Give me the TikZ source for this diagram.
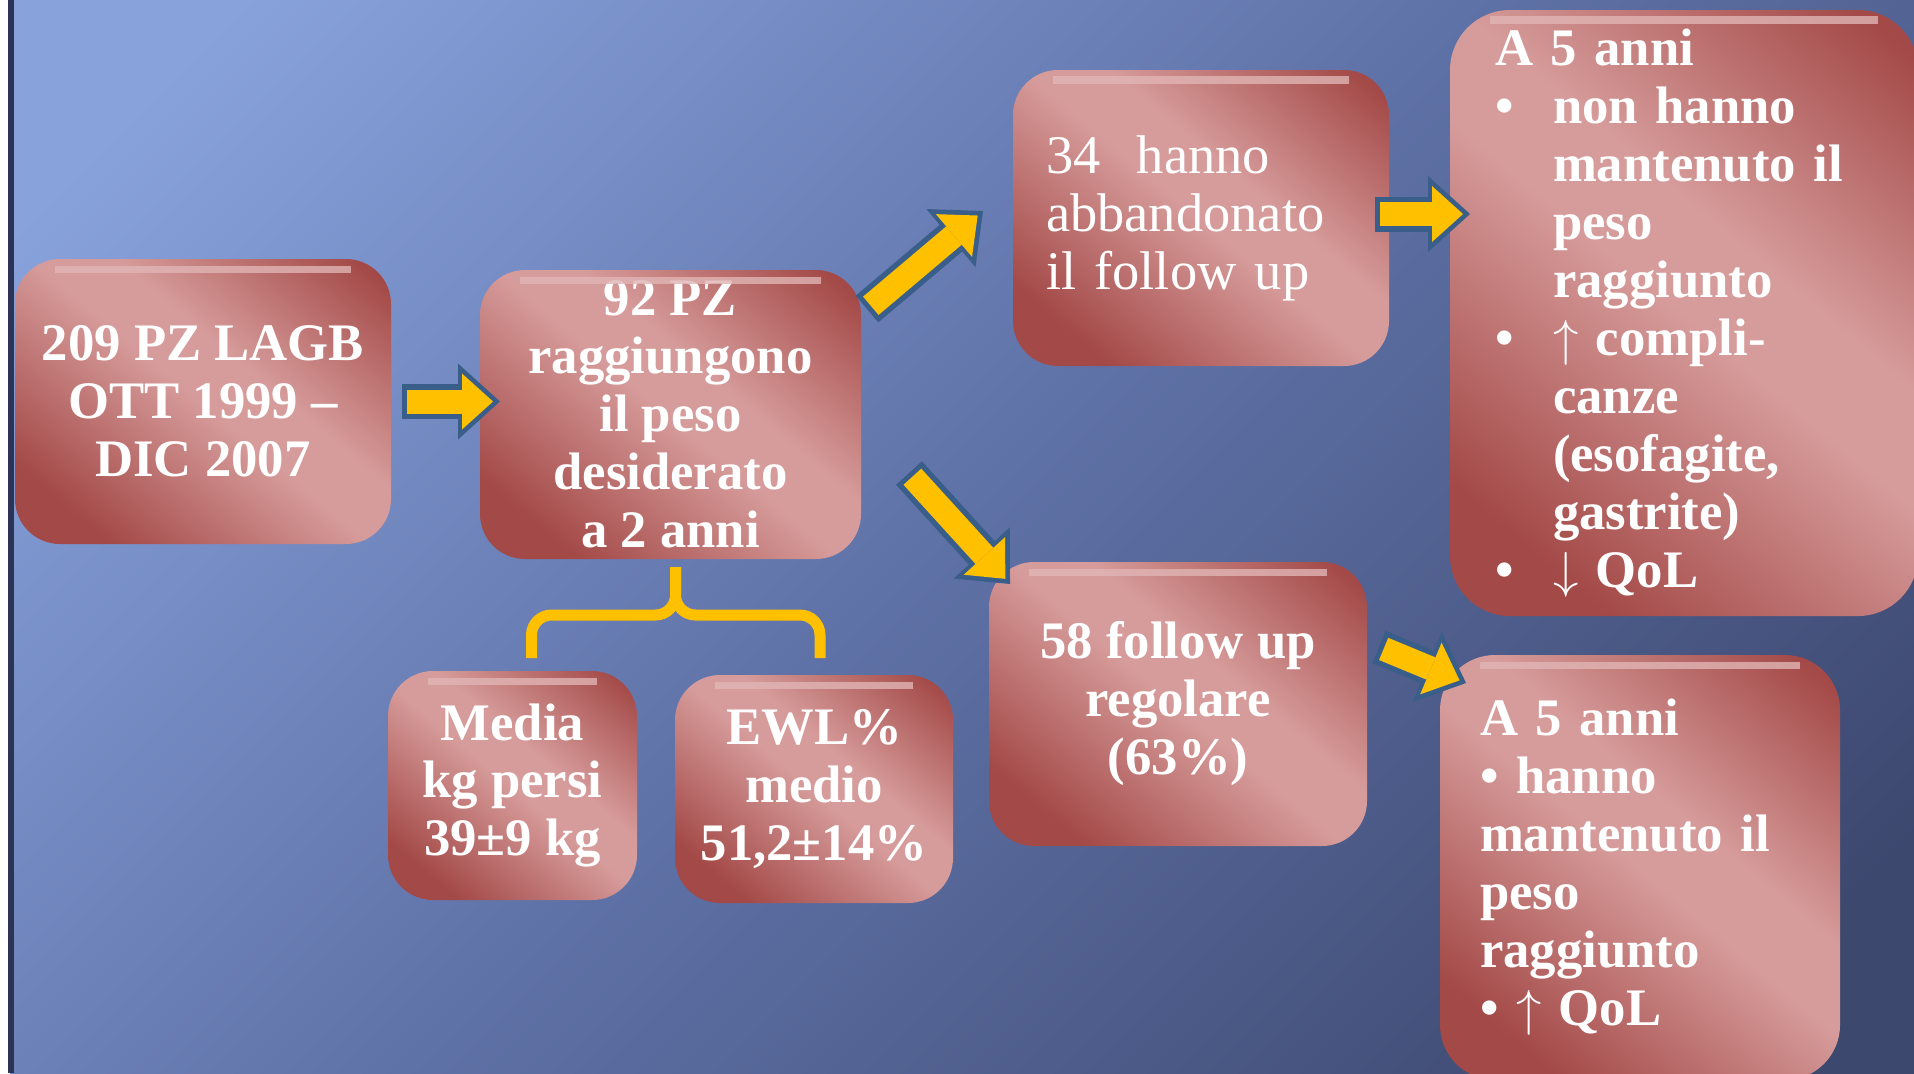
\documentclass[tikz,border=0pt]{standalone}
\usepackage{fontspec}
\setmainfont{Liberation Serif}
\usetikzlibrary{arrows.meta,calc}

\definecolor{bglight}{HTML}{88A2DC}
\definecolor{bgmid}{HTML}{5E71A6}
\definecolor{bgdark}{HTML}{3D486F}
\definecolor{bgedge}{HTML}{2C3354}
\definecolor{boxdark}{HTML}{A34947}
\definecolor{boxlight}{HTML}{D69C9B}
\definecolor{arrowfill}{HTML}{FFC000}
\definecolor{arrowline}{HTML}{3A5E8A}

\pgfdeclarehorizontalshading{bgshade}{100bp}{color(0bp)=(bglight); color(20bp)=(bglight); color(50bp)=(bgmid); color(80bp)=(bgdark); color(100bp)=(bgdark)}
\pgfdeclarehorizontalshading{boxshade}{100bp}{color(0bp)=(boxdark); color(24bp)=(boxdark); color(50bp)=(boxlight); color(58bp)=(boxlight); color(82bp)=(boxdark); color(100bp)=(boxdark)}

\tikzset{
  box/.style={rounded corners=0.45cm, shade, shading=boxshade, shading angle=50,
    text=white, font=\fontsize{15}{16.5}\selectfont\bfseries, align=center,
    inner sep=0pt, outer sep=0pt},
  arrowback/.style={line width=0.35cm, draw=arrowline,
    -{Triangle[length=0.42cm, width=0.76cm, line width=0pt]}},
  arrowfront/.style={line width=0.24cm, draw=arrowfill, shorten <=0.05cm, shorten >=0.07cm,
    -{Triangle[length=0.31cm, width=0.56cm, line width=0pt]}},
  bracket/.style={line width=0.11cm, draw=arrowfill, rounded corners=0.2cm},
  gloss/.style={line width=2pt, draw=boxlight!75!white, opacity=0.8}
}

\begin{document}
\begin{tikzpicture}
  \useasboundingbox (0,0) rectangle (19.14,-10.73);
  \clip (0,0) rectangle (19.14,-10.73);

  % background
  \fill[white] (0,0) rectangle (0.10,-10.73);
  \shade[shading=bgshade, shading angle=-45] (0.10,0) rectangle (19.14,-10.73);
  \draw[bgedge, line width=1.5pt] (0.11,0) -- (0.11,-10.73);

  % first column
  \node[box, minimum width=3.76cm, minimum height=2.85cm] (lagb) at (2.03,-4.015)
    {209 PZ LAGB\\OTT 1999 --\\DIC 2007};

  % second column
  \node[box, minimum width=3.81cm, minimum height=2.89cm] (target) at (6.705,-4.145)
    {92 PZ\\raggiungono\\il peso\\desiderato\\a 2 anni};
  \node[box, minimum width=2.49cm, minimum height=2.29cm] (kgloss) at (5.125,-7.855)
    {Media\\kg persi\\39±9 kg};
  \node[box, minimum width=2.78cm, minimum height=2.28cm] (ewl) at (8.14,-7.89)
    {EWL\%\\medio\\51,2±14\%};

  % third column
  \node[box, font=\fontsize{15.5}{16.5}\selectfont\mdseries, align=left, text width=3.10cm,
    minimum width=3.76cm, minimum height=2.96cm] (dropout) at (12.01,-2.18)
    {34~~hanno\\abbandonato\\il follow up};
  \node[box, minimum width=3.78cm, minimum height=2.84cm] (regular) at (11.78,-7.04)
    {58 follow up\\regolare\\(63\%)};

  % fourth column
  \node[box, rounded corners=0.6cm, align=left, text width=3.78cm,
    minimum width=4.68cm, minimum height=6.06cm] (lost) at (16.84,-3.13)
    {A 5 anni\\
     \makebox[0.58cm][l]{•}non hanno\\
     \hspace*{0.58cm}mantenuto il\\
     \hspace*{0.58cm}peso\\
     \hspace*{0.58cm}raggiunto\\
     \makebox[0.58cm][l]{•}$\uparrow$ compli-\\
     \hspace*{0.58cm}canze\\
     \hspace*{0.58cm}(esofagite,\\
     \hspace*{0.58cm}gastrite)\\
     \makebox[0.58cm][l]{•}$\downarrow$ QoL};
  \node[box, rounded corners=0.55cm, align=left, text width=3.20cm,
    minimum width=4.00cm, minimum height=4.25cm] (kept) at (16.40,-8.675)
    {A 5 anni\\
     • hanno\\
     mantenuto il\\
     peso\\
     raggiunto\\
     • $\uparrow$ QoL};

  % highlight on the top edge
  \foreach \b in {lagb, target, kgloss, ewl, dropout, regular, lost, kept}
    \draw[gloss] ($(\b.north west)+(0.40,-0.10)$) -- ($(\b.north east)+(-0.40,-0.10)$);

  % arrow ends
  \coordinate (t1) at ($(lagb.east)+(0.11,0)$);
  \coordinate (h1) at ($(target.west |- lagb.east)+(0.20,0)$);
  \coordinate (t2) at ($(target.north east)+(0.06,-0.39)$);
  \coordinate (h2) at ($(dropout.west)+(-0.30,0.07)$);
  \coordinate (t3) at ($(target.south east)+(0.48,0.86)$);
  \coordinate (h3) at ($(regular.north west)+(0.21,-0.22)$);
  \coordinate (t4) at ($(dropout.east)+(-0.14,0.04)$);
  \coordinate (h4) at ($(lost.west |- t4)+(0.20,0)$);
  \coordinate (t5) at ($(regular.north east)+(0.12,-0.85)$);
  \coordinate (h5) at ($(kept.north west)+(0.26,-0.28)$);

  \foreach \t/\h in {t1/h1, t2/h2, t3/h3, t4/h4, t5/h5} {
    \draw[arrowback] (\t) -- (\h);
    \draw[arrowfront] (\t) -- (\h);
  }

  % brace under the second box
  \coordinate (brtop) at ($(target.south)+(0.05,-0.08)$);
  \coordinate (brmid) at ($(brtop)+(0,-0.48)$);
  \coordinate (brleft) at ($(kgloss.north)+(0.19,0.13)$);
  \coordinate (brright) at ($(ewl.north)+(0.06,0.17)$);
  \draw[bracket] (brleft) |- (brmid) -- (brtop);
  \draw[bracket] (brright) |- (brmid) -- (brtop);
\end{tikzpicture}
\end{document}
